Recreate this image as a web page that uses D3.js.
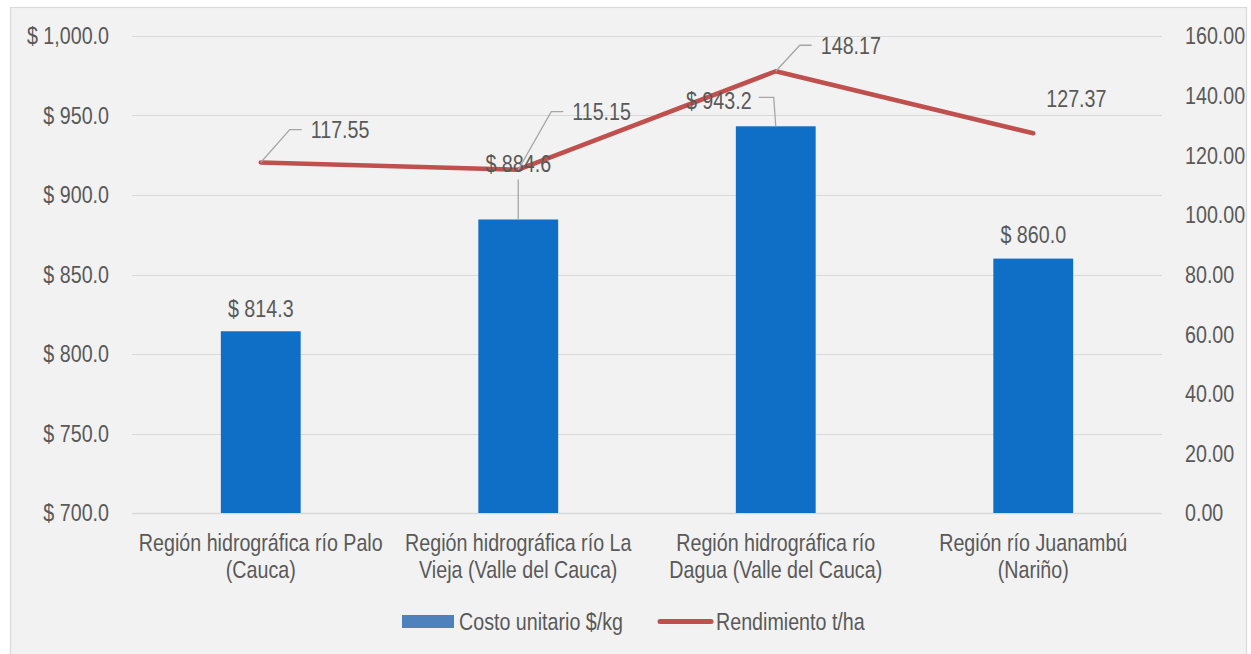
<!DOCTYPE html>
<html>
<head>
<meta charset="utf-8">
<script src="https://cdn.jsdelivr.net/npm/d3@7/dist/d3.min.js"></script>
<style>
  html, body { margin: 0; padding: 0; background: #ffffff; }
  svg { display: block; }
  text { font-family: "Liberation Sans", Arial, sans-serif; fill: #595959; }
</style>
</head>
<body>
<svg id="chart" width="1251" height="654"></svg>
<script>
// Regions (line breaks as shown under the axis)
const categories = [
  "Región hidrográfica río Palo\n(Cauca)",
  "Región hidrográfica río La\nVieja (Valle del Cauca)",
  "Región hidrográfica río\nDagua (Valle del Cauca)",
  "Región río Juanambú\n(Nariño)"
];
// Unit cost ($/kg) – bars, left axis
const costValues = [814.3, 884.6, 943.2, 860.0];
// Yield (t/ha) – line, right axis
const yieldValues = [117.55, 115.15, 148.17, 127.37];
const leftTicks = [700, 750, 800, 850, 900, 950, 1000];
const rightTicks = [0, 20, 40, 60, 80, 100, 120, 140, 160];
const seriesNames = ["Costo unitario $/kg", "Rendimiento t/ha"];

const svg = d3.select("#chart");
const plot = { left: 132, right: 1162, top: 36, bottom: 513 };
const FS = 24, SX = 0.82;   // condensed label type

// text helper: condensed horizontally around its anchor point
function label(parent, x, y, str, anchor) {
  return parent.append("text")
    .attr("transform", `translate(${x},${y}) scale(${SX},1)`)
    .attr("text-anchor", anchor || "middle")
    .attr("dy", "0.35em")
    .attr("font-size", FS)
    .text(str);
}

// chart frame
svg.append("rect")
  .attr("x", 10.5).attr("y", 7.5).attr("width", 1236).attr("height", 650)
  .attr("fill", "#f2f2f2").attr("stroke", "#d9d9d9").attr("stroke-width", 1.2);

const x = d3.scaleBand().domain(categories).range([plot.left, plot.right]).paddingInner(0.69).paddingOuter(0.345);
const yL = d3.scaleLinear().domain([700, 1000]).range([plot.bottom, plot.top]);
const yR = d3.scaleLinear().domain([0, 160]).range([plot.bottom, plot.top]);
const cx = c => x(c) + x.bandwidth() / 2;

// gridlines
svg.append("g").selectAll("line").data(leftTicks).join("line")
  .attr("x1", plot.left).attr("x2", plot.right)
  .attr("y1", d => Math.round(yL(d)) + 0.5).attr("y2", d => Math.round(yL(d)) + 0.5)
  .attr("stroke", "#d9d9d9").attr("stroke-width", d => d === 700 ? 1.6 : 1.2);

// left axis labels
const gL = svg.append("g");
leftTicks.forEach(t => label(gL, 109, yL(t), "$ " + d3.format(",.1f")(t), "end"));

// right axis labels
const gR = svg.append("g");
rightTicks.forEach(t => label(gR, 1185, yR(t), d3.format(".2f")(t), "start"));

// bars
svg.append("g").selectAll("rect").data(categories).join("rect")
  .attr("x", c => x(c))
  .attr("y", (c, i) => yL(costValues[i]))
  .attr("width", x.bandwidth())
  .attr("height", (c, i) => yL(700) - yL(costValues[i]))
  .attr("fill", "#0f6fc6");

// category labels
const catG = svg.append("g");
categories.forEach(c => {
  c.split("\n").forEach((ln, k) => label(catG, cx(c), 543 + k * 27, ln, "middle"));
});

// yield line
const line = d3.line().x((d, i) => cx(categories[i])).y(d => yR(d));
svg.append("path").datum(yieldValues).attr("d", line)
  .attr("fill", "none").attr("stroke", "#c0504d").attr("stroke-width", 4.5)
  .attr("stroke-linejoin", "round").attr("stroke-linecap", "round");

// leader lines and data labels
const leaderStyle = sel => sel.attr("fill", "none").attr("stroke", "#a6a6a6").attr("stroke-width", 1.3);

// bar value labels: offsets of label centre from bar top; leader type
const costFmt = v => "$ " + d3.format(".1f")(v);
const barLbl = [
  { dx: 0, dy: -23, leader: null },
  { dx: 0, dy: -56, leader: "v" },
  { dx: -57, dy: -26, leader: "h" },
  { dx: 0, dy: -24, leader: null }
];
categories.forEach((c, i) => {
  const bx = cx(c), by = yL(costValues[i]);
  const lx = bx + barLbl[i].dx, ly = by + barLbl[i].dy;
  if (barLbl[i].leader === "v") {
    svg.append("path").attr("d", `M${bx},${by} L${bx},${ly + 16}`).call(leaderStyle);
  } else if (barLbl[i].leader === "h") {
    svg.append("path").attr("d", `M${lx + 40},${ly - 3} L${bx - 2},${ly - 3} L${bx},${by}`).call(leaderStyle);
  }
  label(svg, lx, ly, costFmt(costValues[i]), "middle");
});

// yield value labels
const yieldLbl = [
  { dx: 50, dy: -33, leader: true },
  { dx: 54, dy: -58, leader: true },
  { dx: 45, dy: -26, leader: true },
  { dx: 13, dy: -35, leader: false }
];
categories.forEach((c, i) => {
  const px = cx(c), py = yR(yieldValues[i]);
  const tx = px + yieldLbl[i].dx, ty = py + yieldLbl[i].dy;
  if (yieldLbl[i].leader) {
    const kx = tx - 21;
    svg.append("path").attr("d", `M${px},${py} L${kx},${ty} L${tx - 9},${ty}`).call(leaderStyle);
  }
  label(svg, tx, ty, d3.format(".2f")(yieldValues[i]), "start");
});

// legend
const lg = svg.append("g");
lg.append("rect").attr("x", 402).attr("y", 615).attr("width", 52).attr("height", 13).attr("fill", "#4f81bd");
label(lg, 459, 622, seriesNames[0], "start");
lg.append("line").attr("x1", 660).attr("x2", 711).attr("y1", 621.5).attr("y2", 621.5)
  .attr("stroke", "#c0504d").attr("stroke-width", 5).attr("stroke-linecap", "round");
label(lg, 716, 622, seriesNames[1], "start");
</script>
</body>
</html>
